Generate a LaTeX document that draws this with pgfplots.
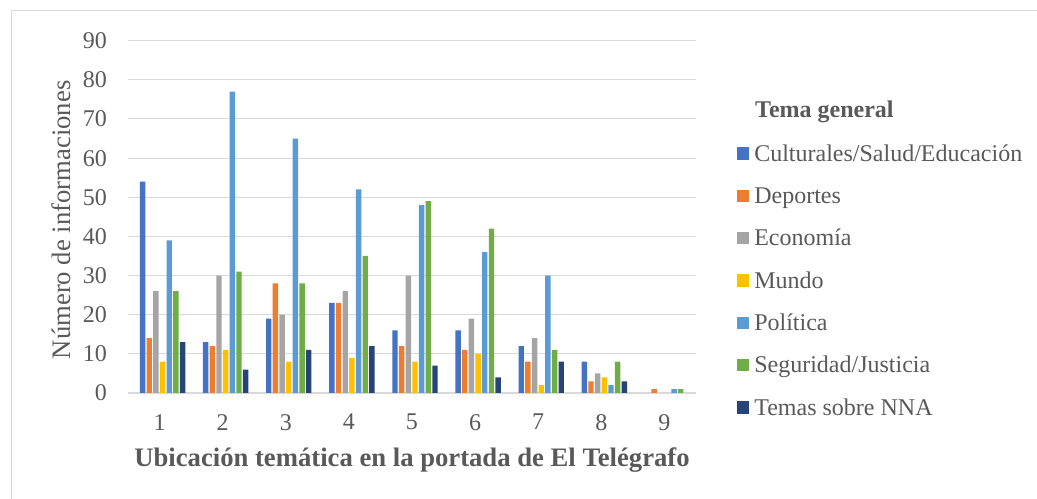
\documentclass[border=0pt]{standalone}
\usepackage{pgfplots}
\usepackage{pgfplotstable}
\pgfplotsset{compat=1.18}
\usepackage{fontspec}
\setmainfont{Liberation Serif}
\definecolor{txt}{HTML}{595959}
\definecolor{gridc}{HTML}{D9D9D9}
\definecolor{c1}{HTML}{4472C4}
\definecolor{c2}{HTML}{ED7D31}
\definecolor{c3}{HTML}{A5A5A5}
\definecolor{c4}{HTML}{FFC000}
\definecolor{c5}{HTML}{5B9BD5}
\definecolor{c6}{HTML}{70AD47}
\definecolor{c7}{HTML}{264478}
\pgfplotstableread{
x cult dep eco mun pol seg nna
1 54 14 26 8 39 26 13
2 13 12 30 11 77 31 6
3 19 28 20 8 65 28 11
4 23 23 26 9 52 35 12
5 16 12 30 8 48 49 7
6 16 11 19 10 36 42 4
7 12 8 14 2 30 11 8
8 8 3 5 4 2 8 3
9 0 1 0 0 1 1 0
}\datatable
\newcommand{\bigfont}{\fontsize{24bp}{28bp}\selectfont}
\newcommand{\titlefont}{\fontsize{26.67bp}{31bp}\selectfont}
\begin{document}
\begin{tikzpicture}
\draw[gridc, line width=1bp] (11bp,-5bp) -- (11bp,488bp) -- (1045bp,488bp);
\begin{axis}[
  at={(128bp,106bp)}, anchor=south west,
  scale only axis,
  width=568bp, height=352.3bp,
  xmin=0.5, xmax=9.5, ymin=0, ymax=90,
  xtick={1,...,9}, ytick={0,10,...,90},
  axis x line=bottom, axis y line=left,
  x axis line style={-, draw=gridc, line width=1.3bp},
  y axis line style={draw=none},
  major tick length=0pt,
  ymajorgrids, grid style={gridc, line width=1bp},
  /pgf/number format/assume math mode=true,
  tick label style={font=\bigfont, text=txt, inner sep=0pt},
  yticklabel style={anchor=east, xshift=-21bp},
  xticklabel style={anchor=north, yshift=-21bp},
  xlabel={\textbf{Ubicación temática en la portada de El Telégrafo}},
  xlabel style={font=\titlefont, text=txt, inner sep=0pt, at={(axis description cs:0.5,0)}, anchor=base, yshift=-73bp},
  ylabel={Número de informaciones},
  ylabel style={font=\titlefont, text=txt, inner sep=0pt, at={(axis description cs:-0.1021,0.4915)}, anchor=base, rotate=0},
  ybar, bar width=5.4bp,
  legend cell align=left,
  legend style={at={(axis description cs:1.0722,0.7068)}, anchor=north west, draw=none, fill=none, inner sep=0pt, outer sep=0pt,
    font=\bigfont, text=txt, row sep=20.35bp, column sep=5bp,
    nodes={inner sep=0pt, outer sep=0pt, text height=17bp, text depth=5bp}},
  legend image code/.code={\fill[#1] (0bp,-4.5bp) rectangle (12.3bp,7.8bp);},
]
\addplot[fill=c1, draw=none, bar shift=-17bp] table[x=x,y=cult]{\datatable};
\addplot[fill=c2, draw=none, bar shift=-10.34bp] table[x=x,y=dep]{\datatable};
\addplot[fill=c3, draw=none, bar shift=-3.67bp] table[x=x,y=eco]{\datatable};
\addplot[fill=c4, draw=none, bar shift=3bp] table[x=x,y=mun]{\datatable};
\addplot[fill=c5, draw=none, bar shift=9.67bp] table[x=x,y=pol]{\datatable};
\addplot[fill=c6, draw=none, bar shift=16.34bp] table[x=x,y=seg]{\datatable};
\addplot[fill=c7, draw=none, bar shift=23bp] table[x=x,y=nna]{\datatable};
\legend{Culturales/Salud/Educación,Deportes,Economía,Mundo,Política,Seguridad/Justicia,Temas sobre NNA}
\end{axis}
\node[anchor=base west, inner sep=0pt, font=\bigfont\bfseries, text=txt] at (755bp,381bp) {Tema general};
\pgfresetboundingbox
\useasboundingbox (0,0) rectangle (1037bp,499bp);
\end{tikzpicture}
\end{document}
